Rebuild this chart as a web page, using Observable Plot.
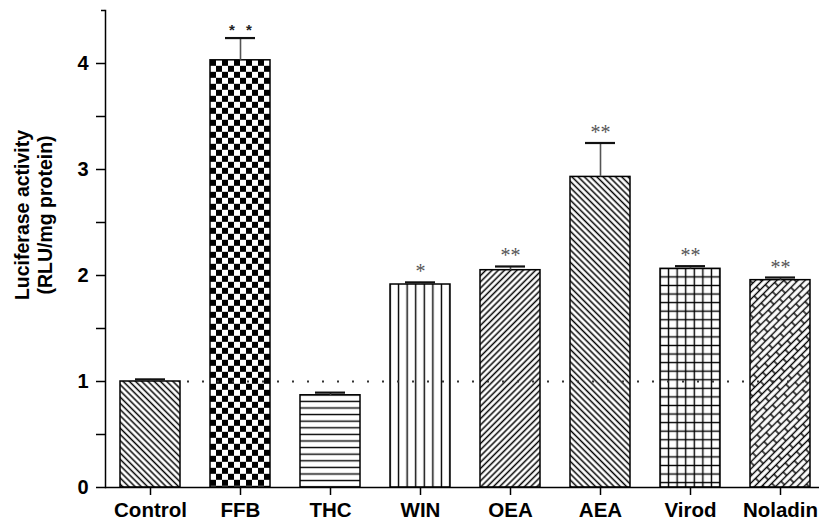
<!DOCTYPE html>
<html><head><meta charset="utf-8">
<script src="https://cdn.jsdelivr.net/npm/d3@7"></script>
<script src="https://cdn.jsdelivr.net/npm/@observablehq/plot@0.6"></script>
<style>body{margin:0;background:#fff} svg{display:block}</style>
</head><body><div id="chart"></div>
<script>
const categories = ["Control", "FFB", "THC", "WIN", "OEA", "AEA", "Virod", "Noladin"];
const values = [1.00, 4.03, 0.87, 1.915, 2.05, 2.93, 2.063, 1.956];
const errors = [0.02, 0.21, 0.025, 0.02, 0.035, 0.32, 0.025, 0.025];
const significance = ["", "**", "", "*", "**", "**", "**", "**"];
const patternTypes = ["diagDown", "checker", "hlines", "vlines", "diagUp", "diagDown", "grid", "brick"];
const majorTicks = [0, 1, 2, 3, 4];
const minorTicks = [0.5, 1.5, 2.5, 3.5];
const topTick = [4.5];
const reference = [1];
const yTitle = "Luciferase activity\n(RLU/mg protein)";

const data = categories.map((c, i) => ({
  cat: c, value: values[i], err: errors[i], top: values[i] + errors[i],
  sig: significance[i], pat: `url(#pat-${i})`
}));
const ffb = data.filter(d => d.cat === "FFB");
const others = data.filter(d => d.cat !== "FFB" && d.sig);

const plot = Plot.plot({
  width: 819, height: 528,
  marginLeft: 105, marginRight: 0, marginTop: 10, marginBottom: 41,
  style: {fontFamily: "'Liberation Sans', Arial, sans-serif", background: "white", color: "black", overflow: "visible"},
  x: {domain: categories, range: [105, 825], paddingInner: 1/3, paddingOuter: 1/6, label: null},
  y: {domain: [0, 4.5], label: null},
  color: {type: "identity"},
  marks: [
    Plot.barY(data, {x: "cat", y: "value", fill: "pat", stroke: "black", strokeWidth: 1.5}),
    Plot.ruleX(data, {x: "cat", y1: "value", y2: "top", stroke: "#555", strokeWidth: 1.6}),
    Plot.tickY(data, {x: "cat", y: "top", stroke: "#111", strokeWidth: 2.2, insetLeft: 15, insetRight: 15}),
    Plot.ruleY(reference, {stroke: "#333", strokeWidth: 2, strokeDasharray: "2,13", insetLeft: 82, insetRight: 8}),
    Plot.text(others, {x: "cat", y: "top", text: "sig", fontFamily: "'Liberation Serif', 'Times New Roman', serif", fontSize: 20, fill: "#555", lineAnchor: "bottom", dy: -4}),
    Plot.text(ffb, {x: "cat", y: "top", text: d => d.sig[0], fontWeight: "bold", fontSize: 15, fill: "#222", lineAnchor: "bottom", dy: -3, dx: -8.5}),
    Plot.text(ffb, {x: "cat", y: "top", text: d => d.sig[1], fontWeight: "bold", fontSize: 15, fill: "#222", lineAnchor: "bottom", dy: -3, dx: 8.5}),
    Plot.ruleY([0], {stroke: "black", strokeWidth: 1.5}),
    Plot.frame({anchor: "left", stroke: "black", strokeWidth: 1.5}),
    Plot.axisY({ticks: majorTicks, tickSize: 9, tickPadding: 8, tickFormat: d => String(d), fontSize: 20, fontWeight: "bold", strokeWidth: 1.5, label: null}),
    Plot.axisY({ticks: minorTicks, tickSize: 9, tickFormat: () => "", strokeWidth: 1.5, label: null}),
    Plot.axisY({ticks: topTick, tickSize: 4, tickFormat: () => "", strokeWidth: 1.5, label: null}),
    Plot.axisX({tickSize: 8, tickPadding: 7, fontSize: 20.5, fontWeight: "bold", strokeWidth: 1.5, label: null}),
    Plot.text([yTitle], {text: d => d, frameAnchor: "left", textAnchor: "middle", rotate: -90, dx: -72, dy: -34, fontSize: 19.5, fontWeight: "bold", lineHeight: 1.15})
  ]
});
document.getElementById("chart").appendChild(plot);

// Patterns aligned to each rendered bar
const svg = d3.select(plot);
const defs = svg.insert("defs", ":first-child");
svg.selectAll('g[aria-label="bar"] rect').each(function(_, i) {
  const r = d3.select(this);
  const x0 = +r.attr("x"), y0 = +r.attr("y"), w = +r.attr("width");
  const p = defs.append("pattern").attr("id", `pat-${i}`).attr("patternUnits", "userSpaceOnUse");
  const bg = (W, H) => p.append("rect").attr("width", W).attr("height", H).attr("fill", "white");
  const line = (x1, y1, x2, y2, sw) => p.append("line").attr("x1", x1).attr("y1", y1).attr("x2", x2).attr("y2", y2).attr("stroke", "black").attr("stroke-width", sw);
  const type = patternTypes[i];
  if (type === "diagDown" || type === "diagUp") {
    const s = 4.4;
    p.attr("width", s).attr("height", 10).attr("patternTransform", type === "diagDown" ? "rotate(-45)" : "rotate(45)");
    bg(s, 10); line(s / 2, 0, s / 2, 10, 1.5);
  } else if (type === "checker") {
    const c = w / 10;
    p.attr("width", 2 * c).attr("height", 2 * c).attr("x", x0).attr("y", y0);
    bg(2 * c, 2 * c);
    p.append("rect").attr("width", c).attr("height", c).attr("fill", "black");
    p.append("rect").attr("x", c).attr("y", c).attr("width", c).attr("height", c).attr("fill", "black");
  } else if (type === "hlines") {
    const s = 6.6;
    p.attr("width", 10).attr("height", s).attr("x", x0).attr("y", y0 - s / 2);
    bg(10, s); line(0, s / 2, 10, s / 2, 1.4);
  } else if (type === "vlines") {
    const s = w / 7;
    p.attr("width", s).attr("height", 10).attr("x", x0 - s / 2).attr("y", 0);
    bg(s, 10); line(s / 2, 0, s / 2, 10, 1.4);
  } else if (type === "grid") {
    const s = w / 7;
    p.attr("width", s).attr("height", s).attr("x", x0 - s / 2).attr("y", y0 - s / 2);
    bg(s, s); line(s / 2, 0, s / 2, s, 1.4); line(0, s / 2, s, s / 2, 1.4);
  } else if (type === "brick") {
    const W = 16, H = 10;
    p.attr("width", W).attr("height", H).attr("patternTransform", "rotate(-45)");
    bg(W, H);
    line(0, 2.5, W, 2.5, 1.4); line(0, 7.5, W, 7.5, 1.4);
    line(4, 2.5, 4, 7.5, 1.4);
    line(12, 7.5, 12, 10, 1.4); line(12, 0, 12, 2.5, 1.4);
  }
});
</script>
</body></html>
